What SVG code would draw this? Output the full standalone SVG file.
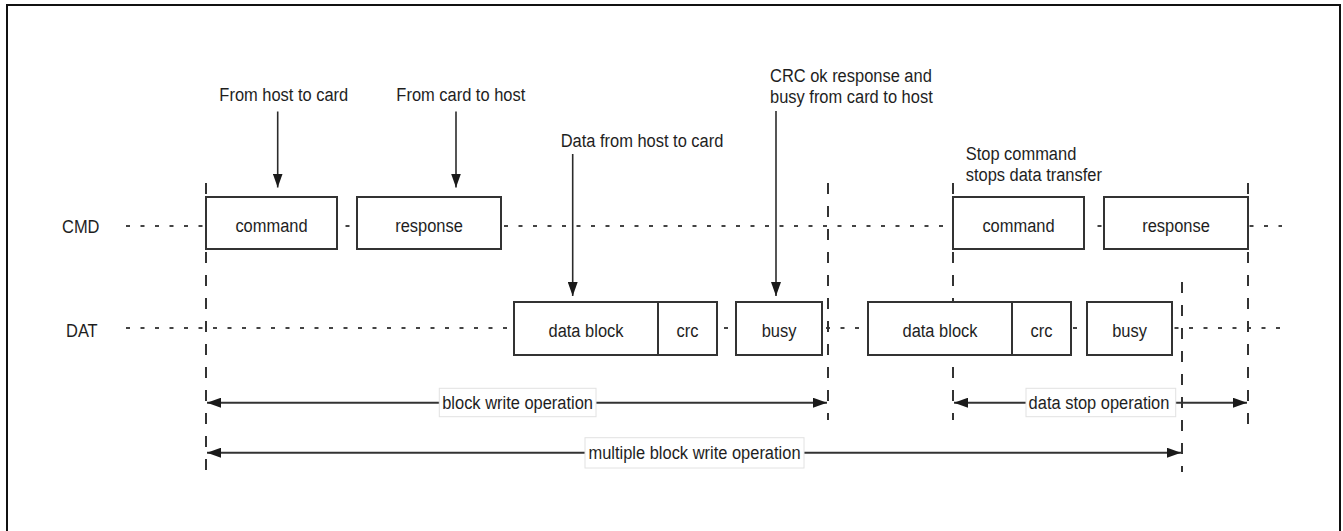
<svg xmlns="http://www.w3.org/2000/svg" width="1343" height="531" viewBox="0 0 1343 531">
  <style>
    .frame { fill: #ffffff; stroke: #111111; stroke-width: 2; }
    .box { fill: #ffffff; stroke: #333333; stroke-width: 2; }
    .div { stroke: #333333; stroke-width: 2; }
    .bus { stroke: #444444; stroke-width: 2; stroke-dasharray: 4 10.5; fill: none; }
    .guide { stroke: #333333; stroke-width: 2; stroke-dasharray: 11 12; fill: none; }
    .arrow { stroke: #2b2b2b; stroke-width: 1.6; fill: none; marker-end: url(#ah); }
    .span { stroke: #333333; stroke-width: 2; fill: none; marker-start: url(#ah); marker-end: url(#ah); }
    .tag { fill: #ffffff; stroke: #e2e2e2; stroke-width: 1; }
    text { font-family: "Liberation Sans", Arial, sans-serif; font-size: 18.6px; fill: #1e1e1e; }
    .mid { text-anchor: middle; }
  </style>
  <defs>
    <marker id="ah" viewBox="0 0 14 10" refX="14" refY="5" markerWidth="14" markerHeight="10" markerUnits="userSpaceOnUse" orient="auto-start-reverse">
      <path d="M0,0 L14,5 L0,10 z" fill="#1a1a1a"/>
    </marker>
  </defs>

  <!-- outer frame -->
  <rect class="frame" x="7" y="5" width="1333" height="530"/>

  <!-- bus lines and timing guides -->
  <g id="connectors">
    <!-- CMD line segments -->
    <path class="bus" d="M126,226 H205"/>
    <path class="bus" d="M345.5,226 H349.5"/>
    <path class="bus" d="M504,226 H953"/>
    <path class="bus" d="M1097.5,226 H1101.5"/>
    <path class="bus" d="M1249.5,226 H1282"/>
    <!-- DAT line segments -->
    <path class="bus" d="M126,328 H514"/>
    <path class="bus" d="M724,328 H728"/>
    <path class="bus" d="M826,328 H868"/>
    <path class="bus" d="M1073,328 H1077"/>
    <path class="bus" d="M1174.5,328 H1282"/>

    <!-- vertical timing guides -->
    <path class="guide" d="M206,183 V473"/>
    <path class="guide" d="M828,183 V420"/>
    <path class="guide" d="M953,183 V420"/>
    <path class="guide" d="M1248,183 V429"/>
    <path class="guide" d="M1182,282 V472"/>

    <!-- annotation arrows -->
    <line class="arrow" x1="277.7" y1="111.5" x2="277.7" y2="187.5"/>
    <line class="arrow" x1="456" y1="111.5" x2="456" y2="187.5"/>
    <line class="arrow" x1="572.7" y1="154" x2="572.7" y2="296"/>
    <line class="arrow" x1="776" y1="111" x2="776" y2="296"/>

    <!-- operation spans -->
    <line class="span" x1="207" y1="402.7" x2="827" y2="402.7"/>
    <line class="span" x1="207" y1="452.7" x2="1181" y2="452.7"/>
    <line class="span" x1="954" y1="402.7" x2="1247" y2="402.7"/>
  </g>

  <!-- signal names -->
  <g id="sig-cmd"><text transform="translate(62 232.5) scale(0.885 1)">CMD</text></g>
  <g id="sig-dat"><text transform="translate(66 337.3) scale(0.885 1)">DAT</text></g>

  <!-- CMD tokens -->
  <g id="cmd-command-1">
    <rect class="box" x="206" y="197" width="131" height="52"/>
    <text class="mid" transform="translate(271.5 232) scale(0.885 1)">command</text>
  </g>
  <g id="cmd-response-1">
    <rect class="box" x="357" y="197" width="144" height="52"/>
    <text class="mid" transform="translate(429 232) scale(0.885 1)">response</text>
  </g>
  <g id="cmd-command-2">
    <rect class="box" x="953" y="197" width="131" height="52"/>
    <text class="mid" transform="translate(1018.5 232) scale(0.885 1)">command</text>
  </g>
  <g id="cmd-response-2">
    <rect class="box" x="1104" y="197" width="144" height="52"/>
    <text class="mid" transform="translate(1176 232) scale(0.885 1)">response</text>
  </g>

  <!-- DAT tokens -->
  <g id="dat-block-1">
    <rect class="box" x="514" y="302" width="203" height="53"/>
    <line class="div" x1="658" y1="302" x2="658" y2="355"/>
    <text class="mid" transform="translate(586 337.3) scale(0.885 1)">data block</text>
    <text class="mid" transform="translate(687.5 337.3) scale(0.885 1)">crc</text>
  </g>
  <g id="dat-busy-1">
    <rect class="box" x="736" y="302" width="86" height="53"/>
    <text class="mid" transform="translate(779 337.3) scale(0.885 1)">busy</text>
  </g>
  <g id="dat-block-2">
    <rect class="box" x="868" y="302" width="203" height="53"/>
    <line class="div" x1="1012" y1="302" x2="1012" y2="355"/>
    <text class="mid" transform="translate(940 337.3) scale(0.885 1)">data block</text>
    <text class="mid" transform="translate(1041.5 337.3) scale(0.885 1)">crc</text>
  </g>
  <g id="dat-busy-2">
    <rect class="box" x="1087" y="302" width="85" height="53"/>
    <text class="mid" transform="translate(1129.5 337.3) scale(0.885 1)">busy</text>
  </g>

  <!-- annotations -->
  <g id="note-host-card">
    <text class="mid" transform="translate(283.8 100.7) scale(0.885 1)">From host to card</text>
  </g>
  <g id="note-card-host">
    <text class="mid" transform="translate(460.8 100.7) scale(0.885 1)">From card to host</text>
  </g>
  <g id="note-data">
    <text class="mid" transform="translate(642 146.7) scale(0.885 1)">Data from host to card</text>
  </g>
  <g id="note-crc">
    <text transform="translate(770 81.7) scale(0.885 1)">CRC ok response and</text>
    <text transform="translate(770 102.5) scale(0.885 1)">busy from card to host</text>
  </g>
  <g id="note-stop">
    <text transform="translate(965.7 159.5) scale(0.885 1)">Stop command</text>
    <text transform="translate(965.7 180.5) scale(0.885 1)">stops data transfer</text>
  </g>

  <!-- span labels -->
  <g id="label-block-write">
    <rect class="tag" x="439.3" y="388.3" width="156.7" height="28.4"/>
    <text class="mid" transform="translate(517.6 409.3) scale(0.885 1)">block write operation</text>
  </g>
  <g id="label-multi-write">
    <rect class="tag" x="585" y="437.7" width="219" height="30.3"/>
    <text class="mid" transform="translate(694.5 459.3) scale(0.885 1)">multiple block write operation</text>
  </g>
  <g id="label-data-stop">
    <rect class="tag" x="1026" y="388.3" width="149.7" height="28.4"/>
    <text class="mid" transform="translate(1099 409.3) scale(0.885 1)">data stop operation</text>
  </g>
</svg>
